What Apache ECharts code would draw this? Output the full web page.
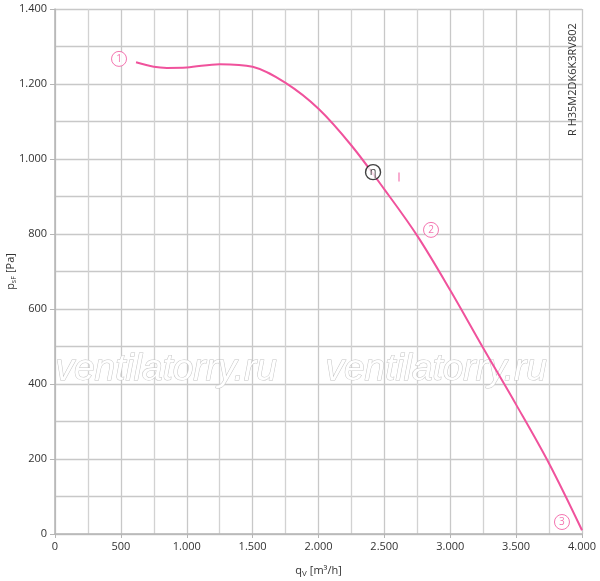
<!DOCTYPE html>
<html><head><meta charset="utf-8">
<script src="https://cdn.jsdelivr.net/npm/echarts@6/dist/echarts.min.js"></script>
<style>html,body{margin:0;padding:0;background:#fff}#c{width:600px;height:581px}</style>
</head><body><div id="c"></div>
<script>
// Fan curve: airflow q_V [m3/h] vs static pressure p_sF [Pa]
var flow     = [615, 750, 850, 1000, 1250, 1500, 1750, 2000, 2250, 2500, 2750, 3000, 3250, 3500, 3750, 4000];
var pressure = [1258, 1246, 1243, 1244, 1253, 1246, 1203, 1134, 1036, 919, 795, 650, 496, 345, 188, 10];
// Circled point markers (label, q, p)
var markLabels = ['1', '2', '3'];
var markFlow   = [486, 2854, 3848];
var markPress  = [1267, 811, 32];
// efficiency marker
var etaPoint = [2414, 965];
var tickPoint = [2611, 952];
var modelName = 'R H35M2DK6K3RV802';
var watermark = 'ventilatorry.ru';

var pink = '#f0529c';
var fmt = function (v) { return v >= 1000 ? Math.floor(v / 1000) + '.' + String(v % 1000).padStart(3, '0') : String(v); };
var curve = flow.map(function (q, i) { return [q, pressure[i]]; });
var marks = markLabels.map(function (l, i) { return { value: [markFlow[i], markPress[i]], name: l }; });

var chart = echarts.init(document.getElementById('c'), null, { renderer: 'canvas' });
var font = 'Open Sans, Noto Sans, sans-serif';
chart.setOption({
  animation: false,
  textStyle: { fontFamily: font },
  grid: { left: 55, right: 18, top: 9, bottom: 47, containLabel: false, outerBoundsMode: 'none' },
  xAxis: {
    type: 'value', min: 0, max: 4000, interval: 500,
    axisLine: { show: true, lineStyle: { color: '#b5b5b5', width: 1.5 } },
    axisTick: { show: true, length: 4, lineStyle: { color: '#b5b5b5' } },
    axisLabel: { color: '#333', fontSize: 11, margin: 7, formatter: fmt },
    splitLine: { show: true, lineStyle: { color: '#c8c8c8', width: 1.3 } },
    minorTick: { show: false, splitNumber: 2 },
    minorSplitLine: { show: true, lineStyle: { color: '#d2d2d2', width: 1.3 } },
    name: '{q|q}{s|V} {q|[m³/h]}', nameLocation: 'middle', nameGap: 30, nameMoveOverlap: false,
    nameTextStyle: { rich: { q: { fontSize: 11, color: '#333', fontFamily: font }, s: { fontSize: 8, color: '#333', verticalAlign: 'bottom', padding: [6, 0, 0, 0], fontFamily: font } } }
  },
  yAxis: {
    type: 'value', min: 0, max: 1400, interval: 200,
    axisLine: { show: true, lineStyle: { color: '#b5b5b5', width: 1.5 } },
    axisTick: { show: true, length: 5, lineStyle: { color: '#b5b5b5' } },
    axisLabel: { color: '#333', fontSize: 11, margin: 8, formatter: fmt },
    splitLine: { show: true, lineStyle: { color: '#c8c8c8', width: 1.3 } },
    minorTick: { show: false, splitNumber: 2 },
    minorSplitLine: { show: true, lineStyle: { color: '#c8c8c8', width: 1.3 } },
    name: '{q|p}{s|sF} {q|[Pa]}', nameLocation: 'middle', nameGap: 38, nameRotate: 90, nameMoveOverlap: false,
    nameTextStyle: { rich: { q: { fontSize: 11, color: '#333', fontFamily: font }, s: { fontSize: 7, color: '#333', fontFamily: font, padding: [5, 0, 0, 0] } } }
  },
  graphic: [
    { type: 'text', left: 55, top: 351, z: 1, style: { text: watermark, font: 'italic 37px "Liberation Sans", sans-serif', fill: '#ffffff', stroke: '#c4c4c4', lineWidth: 1 } },
    { type: 'text', left: 325, top: 351, z: 1, style: { text: watermark, font: 'italic 37px "Liberation Sans", sans-serif', fill: '#ffffff', stroke: '#c4c4c4', lineWidth: 1 } },
    { type: 'text', x: 567, y: 136, rotation: Math.PI / 2, z: 10, style: { text: modelName, font: '11px "Open Sans", sans-serif', fill: '#333' } }
  ],
  series: [
    { type: 'line', data: curve, smooth: 0.35, showSymbol: false, z: 5, lineStyle: { color: pink, width: 2 } },
    { type: 'scatter', data: marks, symbol: 'circle', symbolSize: 15, z: 6,
      itemStyle: { color: '#fff', borderColor: pink, borderWidth: 1 },
      label: { show: true, position: 'inside', formatter: '{b}', color: pink, fontSize: 10, fontFamily: font } },
    { type: 'scatter', data: [{ value: etaPoint, name: 'η' }], symbol: 'circle', symbolSize: 15, z: 7,
      itemStyle: { color: '#fff', borderColor: '#111', borderWidth: 1.4 },
      label: { show: true, position: 'inside', formatter: '{b}', color: '#111', fontSize: 11, fontFamily: font } },
    { type: 'scatter', data: [tickPoint], symbol: 'rect', symbolSize: [1.2, 9], z: 6, itemStyle: { color: pink } }
  ]
});
</script></body></html>
